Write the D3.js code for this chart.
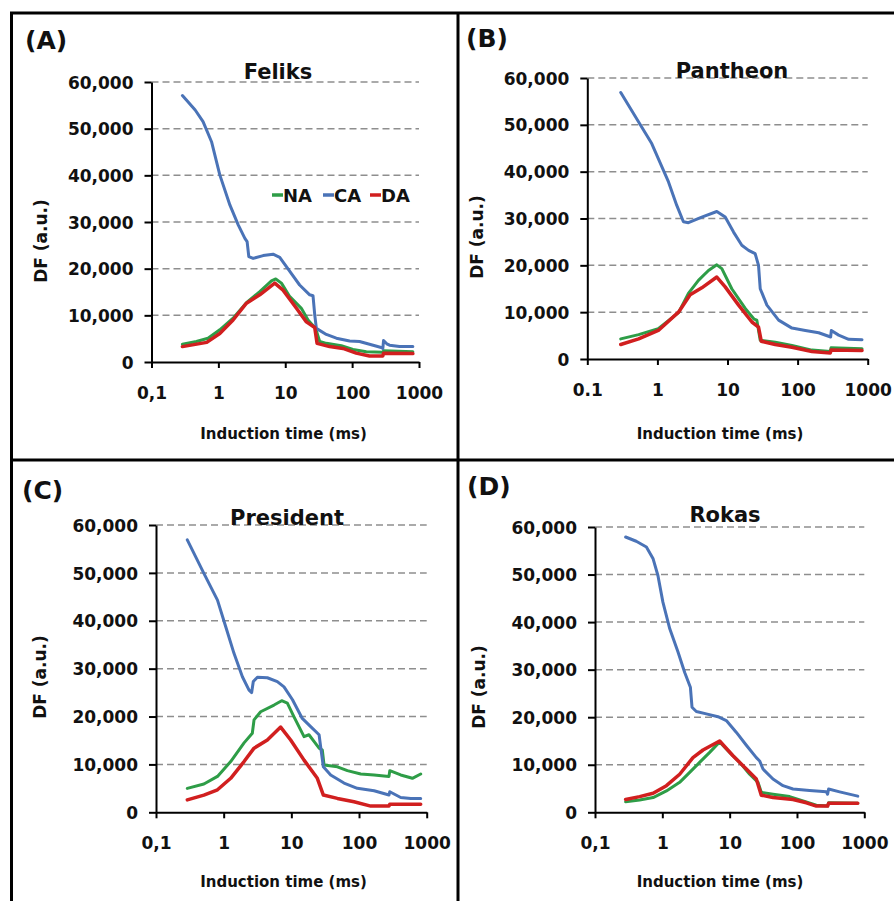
<!DOCTYPE html>
<html>
<head>
<meta charset="utf-8">
<script src="https://cdn.jsdelivr.net/npm/d3@7"></script>
<style>
  html, body { margin: 0; padding: 0; background: #fff; }
  svg { display: block; }
  text { font-family: "DejaVu Sans", sans-serif; font-weight: bold; fill: #111; }
</style>
</head>
<body>
<svg id="chart" width="894" height="901"></svg>
<script>
// ---------- data ----------
const seriesNames = ["NA", "CA", "DA"];
const panelTitles = ["Feliks", "Pantheon", "President", "Rokas"];
const panelLetters = ["(A)", "(B)", "(C)", "(D)"];
const xTickValues = [0.1, 1, 10, 100, 1000];
const xTickLabelsComma = ["0,1", "1", "10", "100", "1000"];
const xTickLabelsDot = ["0.1", "1", "10", "100", "1000"];
const yTickValues = [0, 10000, 20000, 30000, 40000, 50000, 60000];
const xAxisTitle = "Induction time (ms)";
const yAxisTitle = "DF (a.u.)";

// [induction time (ms), DF (a.u.)]
const feliksNA = [[0.29,3800],[0.47,4400],[0.70,5100],[1.05,6900],[1.66,9400],[2.63,12700],[4.16,15100],[6.22,17400],[7.21,17800],[8.77,16900],[11.7,14000],[17.4,11500],[21.9,9000],[27.6,7400],[29.5,6500],[32.7,4400],[41.1,4000],[68.9,3500],[103,2700],[163,2200],[288,2100],[295,2400],[809,2200]];
const feliksCA = [[0.29,57100],[0.45,54000],[0.59,51500],[0.79,47200],[1.05,40100],[1.49,33600],[1.98,29400],[2.49,26500],[2.69,25800],[2.85,22600],[3.31,22200],[4.67,22800],[6.58,23100],[8.27,22400],[11.7,19400],[16.4,16500],[23.2,14400],[26.0,14200],[27.6,10100],[29.2,7200],[41.1,5900],[58.1,5100],[91.8,4500],[129,4400],[182,3800],[272,3100],[288,2900],[295,4600],[330,3900],[363,3600],[512,3300],[809,3300]];
const feliksDA = [[0.29,3300],[0.67,4200],[1.05,6100],[1.66,9000],[2.63,12600],[4.16,14400],[6.97,16900],[9.27,15400],[14.7,11500],[20.7,8600],[27.6,7400],[29.9,4000],[46.1,3300],[73,2900],[115,1900],[182,1300],[288,1300],[295,1900],[809,1800]];

const pantheonNA = [[0.30,4300],[0.54,5200],[1.03,6500],[2.0,9900],[2.77,14000],[3.85,16800],[5.35,18900],[7.04,20100],[8.3,19300],[11.5,15000],[17.9,10800],[24.0,8500],[26.2,8300],[29.3,4000],[48,3600],[83,2900],[160,1900],[293,1600],[300,2400],[830,2200]];
const pantheonCA = [[0.30,56900],[0.54,50600],[0.83,46000],[1.44,37800],[1.89,32800],[2.35,29300],[2.77,29100],[4.30,30300],[7.04,31500],[9.27,30300],[12.2,27100],[16.0,24300],[20.0,23200],[24.8,22500],[27.7,20000],[29.3,15000],[36.5,11500],[53.6,8300],[83,6600],[129,6100],[200,5600],[296,4700],[303,6100],[385,5100],[535,4200],[830,4100]];
const pantheonDA = [[0.30,3100],[0.54,4300],[1.03,6100],[2.0,10000],[2.93,13700],[4.30,15200],[7.04,17500],[9.27,15400],[14.4,11500],[22.3,7900],[27.7,6800],[30.3,3800],[48,3100],[83,2500],[160,1600],[293,1300],[300,1900],[830,1800]];

const presidentNA = [[0.29,5000],[0.51,5900],[0.81,7500],[1.27,10600],[2.0,14500],[2.65,16500],[2.81,19300],[3.52,21000],[5.55,22400],[7.2,23300],[8.73,22800],[10.9,20000],[15.4,15800],[18.2,16200],[21.6,14800],[25.7,13400],[28.7,13000],[30.4,9900],[47.9,9500],[67.3,8700],[106,8000],[167,7800],[277,7500],[285,8700],[413,7800],[614,7100],[815,8000]];
const presidentCA = [[0.29,56900],[0.51,49900],[0.81,44300],[1.07,38800],[1.42,33200],[1.89,28300],[2.37,25500],[2.59,25000],[2.74,27300],[3.15,28200],[4.42,28100],[6.21,27300],[7.79,26200],[10.4,23500],[14.5,19600],[19.3,17900],[25.7,16200],[27.1,13700],[29.7,9500],[38.1,7800],[60,6100],[94.4,5000],[167,4500],[277,3600],[285,4300],[413,3100],[581,2900],[815,2900]];
const presidentDA = [[0.29,2600],[0.51,3600],[0.81,4700],[1.27,7100],[2.0,10600],[2.81,13400],[4.42,15100],[6.95,17800],[9.77,15100],[15.4,10900],[24.2,7100],[29.7,3600],[47.9,2900],[84.3,2200],[149,1300],[277,1300],[285,1700],[815,1700]];

const rokasNA = [[0.285,2200],[0.46,2600],[0.73,3100],[1.15,4500],[1.81,6300],[2.55,8400],[3.58,10500],[5.05,12600],[7.1,14800],[10,12600],[14.1,10500],[19.8,8000],[26.4,6300],[29.5,4200],[44,3800],[77.8,3300],[123,2400],[194,1500],[285,1300],[295,2000],[800,1900]];
const rokasCA = [[0.285,57900],[0.41,57000],[0.58,55800],[0.73,53300],[0.86,49800],[1.02,44200],[1.29,38600],[1.71,33700],[2.15,29400],[2.61,26300],[2.76,22100],[3.2,21200],[4.5,20700],[6.71,20100],[8.92,19300],[12.6,16800],[17.7,14100],[24.9,11500],[27.9,10800],[31.3,9100],[44,7000],[62,5600],[87.3,4900],[154,4600],[273,4300],[285,3800],[295,4900],[430,4300],[800,3400]];
const rokasDA = [[0.285,2700],[0.46,3300],[0.73,4000],[1.15,5600],[1.81,8000],[2.85,11500],[4.02,13100],[7.1,15000],[11.2,11900],[17.7,9100],[24.9,7000],[29.5,3600],[44,3100],[87.3,2700],[138,2000],[194,1300],[285,1300],[295,1900],[800,1900]];

const seriesColors = { NA: "#2e9d47", CA: "#4a73b7", DA: "#d11f1f" };
const seriesWidths = { NA: 3, CA: 3, DA: 3.5 };

// ---------- layout ----------
const panels = [
  { title: panelTitles[0], letter: panelLetters[0], data: { NA: feliksNA, CA: feliksCA, DA: feliksDA }, xLabels: xTickLabelsComma,
    ax: 151.5, x1000: 419, yTop: 82, yZero: 362, titleX: 278, titleY: 79, letterX: 25, letterY: 49,
    yLabX: 47, yLabY: 241, xLabX: 283.5, xLabY: 439, legend: true },
  { title: panelTitles[1], letter: panelLetters[1], data: { NA: pantheonNA, CA: pantheonCA, DA: pantheonDA }, xLabels: xTickLabelsDot,
    ax: 587.3, x1000: 867.7, yTop: 78, yZero: 359, titleX: 732, titleY: 78, letterX: 466, letterY: 47,
    yLabX: 483, yLabY: 237, xLabX: 720, xLabY: 439, legend: false },
  { title: panelTitles[2], letter: panelLetters[2], data: { NA: presidentNA, CA: presidentCA, DA: presidentDA }, xLabels: xTickLabelsComma,
    ax: 156, x1000: 426.7, yTop: 525, yZero: 812.3, titleX: 287, titleY: 525, letterX: 22, letterY: 499,
    yLabX: 46, yLabY: 677, xLabX: 283.5, xLabY: 887, legend: false },
  { title: panelTitles[3], letter: panelLetters[3], data: { NA: rokasNA, CA: rokasCA, DA: rokasDA }, xLabels: xTickLabelsComma,
    ax: 595, x1000: 864.3, yTop: 527, yZero: 812.3, titleX: 725, titleY: 522, letterX: 467, letterY: 495,
    yLabX: 485, yLabY: 687, xLabX: 720, xLabY: 887, legend: false }
];

const svg = d3.select("#chart");

// frame lines
const frame = svg.append("g").attr("stroke", "#000").attr("stroke-width", 3);
frame.append("line").attr("x1", 10).attr("x2", 894).attr("y1", 13).attr("y2", 13);
frame.append("line").attr("x1", 11.5).attr("x2", 11.5).attr("y1", 12).attr("y2", 901);
frame.append("line").attr("x1", 458).attr("x2", 458).attr("y1", 12).attr("y2", 901);
frame.append("line").attr("x1", 10).attr("x2", 894).attr("y1", 460).attr("y2", 460);

panels.forEach(p => {
  const g = svg.append("g");
  const x = d3.scaleLog().domain([0.1, 1000]).range([p.ax, p.x1000]);
  const y = d3.scaleLinear().domain([0, 60000]).range([p.yZero, p.yTop]);

  // gridlines
  g.append("g").selectAll("line")
    .data(yTickValues.filter(v => v > 0))
    .join("line")
    .attr("x1", p.ax).attr("x2", p.x1000)
    .attr("y1", d => y(d)).attr("y2", d => y(d))
    .attr("stroke", "#8e8e8e").attr("stroke-width", 1.5)
    .attr("stroke-dasharray", "7,4");

  // title
  g.append("text").attr("x", p.titleX).attr("y", p.titleY)
    .attr("text-anchor", "middle").attr("font-size", 21).text(p.title);

  // letter
  g.append("text").attr("x", p.letterX).attr("y", p.letterY)
    .attr("font-size", 25).text(p.letter);

  // y axis
  const yAxis = d3.axisLeft(y).tickValues(yTickValues).tickSize(7).tickSizeOuter(0)
    .tickPadding(11).tickFormat(d3.format(","));
  const ya = g.append("g").attr("transform", `translate(${p.ax},0)`).call(yAxis);
  ya.select(".domain").attr("stroke", "#000").attr("stroke-width", 2);
  ya.selectAll(".tick line").attr("stroke", "#000").attr("stroke-width", 2);
  ya.selectAll(".tick text").attr("font-size", 17).attr("font-family", "DejaVu Sans")
    .attr("font-weight", "bold").attr("fill", "#111").attr("dy", "0.36em");

  // x axis
  const xAxis = d3.axisBottom(x).tickValues(xTickValues).tickSize(6).tickSizeOuter(0)
    .tickPadding(19).tickFormat((d, i) => p.xLabels[i]);
  const xa = g.append("g").attr("transform", `translate(0,${p.yZero})`).call(xAxis);
  xa.select(".domain").attr("stroke", "#000").attr("stroke-width", 2);
  xa.selectAll(".tick line").attr("stroke", "#000").attr("stroke-width", 2);
  xa.selectAll(".tick text").attr("font-size", 17).attr("font-family", "DejaVu Sans")
    .attr("font-weight", "bold").attr("fill", "#111").attr("dy", "0.71em");

  // axis titles
  g.append("text").attr("x", p.xLabX).attr("y", p.xLabY)
    .attr("text-anchor", "middle").attr("font-size", 15).text(xAxisTitle);
  g.append("text").attr("transform", `translate(${p.yLabX},${p.yLabY}) rotate(-90)`)
    .attr("text-anchor", "middle").attr("font-size", 17).text(yAxisTitle);

  // series
  const line = d3.line().x(d => x(d[0])).y(d => y(d[1])).curve(d3.curveLinear);
  seriesNames.forEach(name => {
    g.append("path").datum(p.data[name])
      .attr("d", line)
      .attr("fill", "none")
      .attr("stroke", seriesColors[name])
      .attr("stroke-width", seriesWidths[name])
      .attr("stroke-linejoin", "round")
      .attr("stroke-linecap", "round");
  });

  // legend
  if (p.legend) {
    const legendX = [272, 323, 370];
    const lg = g.append("g");
    seriesNames.forEach((name, i) => {
      lg.append("line").attr("x1", legendX[i]).attr("x2", legendX[i] + 11)
        .attr("y1", 195).attr("y2", 195)
        .attr("stroke", seriesColors[name]).attr("stroke-width", 3.5);
      lg.append("text").attr("x", legendX[i] + 11).attr("y", 201.5)
        .attr("font-size", 18).text(name);
    });
  }
});
</script>
</body>
</html>
